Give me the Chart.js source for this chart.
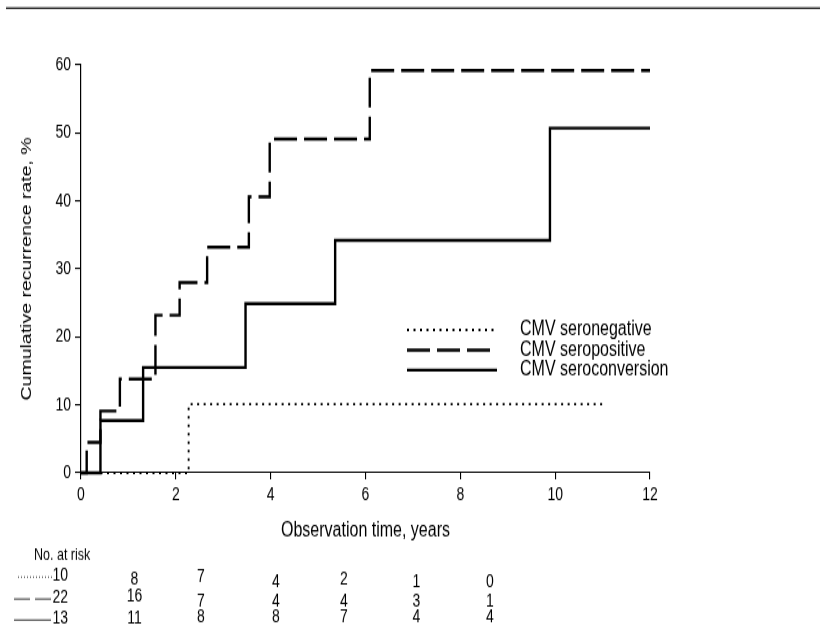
<!DOCTYPE html>
<html>
<head>
<meta charset="utf-8">
<script src="https://cdn.jsdelivr.net/npm/chart.js@4.4.1/dist/chart.umd.min.js"></script>
<style>
  html, body { margin: 0; padding: 0; background: #fff; }
  #page { width: 826px; height: 630px; position: relative; }
  /* the source figure is stretched vertically, so the whole canvas is too */
  #wrap { position: absolute; left: 0; top: 0; width: 826px; height: 485px; transform: scaleY(1.299); transform-origin: 0 0; }
</style>
</head>
<body>
<div id="page"><div id="wrap"><canvas id="km" width="826" height="485"></canvas></div></div>
<script>
// Kaplan-Meier style cumulative recurrence (%), step points: time (years) -> rate after the step
const seronegTimes = [0, 2.27, 11.06];
const seronegRates = [0, 10.1, 10.1];
const seroposTimes = [0, 0.12, 0.41, 0.82, 1.57, 2.08, 2.66, 3.54, 3.98, 6.09, 12];
const seroposRates = [0, 4.5, 9.1, 13.8, 23.2, 28.0, 33.2, 40.6, 49.1, 59.2, 59.2];
const seroconvTimes = [0, 0.41, 1.31, 3.47, 5.36, 9.89, 12];
const seroconvRates = [0, 7.7, 15.5, 24.9, 34.2, 50.7, 50.7];

const seriesLabels = ['CMV seronegative', 'CMV seropositive', 'CMV seroconversion'];

// numbers at risk, one row per group
const riskSeroneg = [10, 8, 7, 4, 2, 1, 0];
const riskSeropos = [22, 16, 7, 4, 4, 3, 1];
const riskSeroconv = [13, 11, 8, 8, 7, 4, 4];

const SY = 1.299; // vertical stretch used by #wrap
const FONT = '"Liberation Sans", Arial, Helvetica, sans-serif';
Chart.defaults.font.family = FONT;
Chart.defaults.color = '#000';

const toPoints = (xs, ys) => xs.map((t, i) => ({ x: t, y: ys[i] }));

const dashes = [[2, 4.5], [23, 7], []];
const widths = [1.9, 2.4, 2.4];

// legend, risk table and the rule at the top, drawn in figure coordinates
const extras = {
  id: 'extras',
  afterDraw(chart) {
    const ctx = chart.ctx;
    ctx.save();
    ctx.fillStyle = '#111';
    ctx.fillRect(6, 7.3 / SY, 814, 1.6 / SY);

    // legend
    ctx.font = '16px ' + FONT;
    ctx.textBaseline = 'middle';
    ctx.textAlign = 'left';
    chart.data.datasets.forEach((ds, i) => {
      const y = (330 + i * 20) / SY;
      ctx.beginPath();
      ctx.setLineDash(ds.borderDash || []);
      ctx.lineWidth = ds.borderWidth;
      ctx.strokeStyle = '#000';
      ctx.moveTo(407, y);
      ctx.lineTo(497, y);
      ctx.stroke();
      ctx.fillStyle = '#000';
      ctx.fillText(ds.label, 520, y);
    });
    ctx.setLineDash([]);

    // numbers at risk
    ctx.font = '12.5px ' + FONT;
    ctx.fillText('No. at risk', 34, 556 / SY);
    ctx.font = '14px ' + FONT;
    const rows = [riskSeroneg, riskSeropos, riskSeroconv];
    const colX = [68, 134.5, 201, 276, 344, 416.5, 490];
    const rowY = [
      [575, 579, 577, 582, 580, 582, 582],
      [598, 596, 601, 601, 601, 601, 601],
      [618, 618, 617, 617, 617, 617, 617]
    ];
    const symY = [577, 599, 620];
    const symDash = [[1, 2], [16, 5], []];
    rows.forEach((row, r) => {
      ctx.beginPath();
      ctx.setLineDash(symDash[r]);
      ctx.lineWidth = 1;
      ctx.strokeStyle = '#333';
      ctx.moveTo(r === 0 ? 18 : 14, symY[r] / SY);
      ctx.lineTo(r === 0 ? 52 : 51, symY[r] / SY);
      ctx.stroke();
      ctx.setLineDash([]);
      row.forEach((n, c) => {
        ctx.textAlign = c === 0 ? 'right' : 'center';
        ctx.fillText(String(n), colX[c], rowY[r][c] / SY);
      });
    });
    ctx.restore();
  }
};

new Chart(document.getElementById('km'), {
  type: 'line',
  data: {
    datasets: [
      { label: seriesLabels[0], data: toPoints(seronegTimes, seronegRates) },
      { label: seriesLabels[1], data: toPoints(seroposTimes, seroposRates) },
      { label: seriesLabels[2], data: toPoints(seroconvTimes, seroconvRates) }
    ].map((ds, i) => Object.assign(ds, {
      stepped: true,
      borderColor: '#000',
      borderWidth: widths[i],
      borderDash: dashes[i],
      pointRadius: 0,
      fill: false,
      clip: 4
    }))
  },
  options: {
    responsive: false,
    animation: false,
    layout: { padding: { left: 0, top: 50, right: 176, bottom: 66 } },
    plugins: { legend: { display: false }, tooltip: { enabled: false } },
    scales: {
      x: {
        type: 'linear',
        min: 0,
        max: 12,
        ticks: { stepSize: 2, font: { size: 14 }, color: '#000', padding: 4, maxRotation: 0 },
        grid: { drawOnChartArea: false, drawTicks: true, tickLength: 5, color: '#000', lineWidth: 1.1 },
        border: { color: '#000', width: 1.1 },
        title: { display: true, text: 'Observation time, years', font: { size: 16 }, color: '#000', padding: { top: 0, bottom: 1 } },
        afterFit: s => { s.height = 55; }
      },
      y: {
        min: 0,
        max: 60,
        ticks: { stepSize: 10, font: { size: 14 }, color: '#000', padding: 4 },
        grid: { drawOnChartArea: false, drawTicks: true, tickLength: 6, color: '#000', lineWidth: 1.1 },
        border: { color: '#000', width: 1.2 },
        title: { display: true, text: 'Cumulative recurrence rate, %', font: { size: 15 }, color: '#000', padding: { top: 18, bottom: 0 } },
        afterFit: s => { s.width = 81; }
      }
    }
  },
  plugins: [extras]
});
</script>
</body>
</html>
